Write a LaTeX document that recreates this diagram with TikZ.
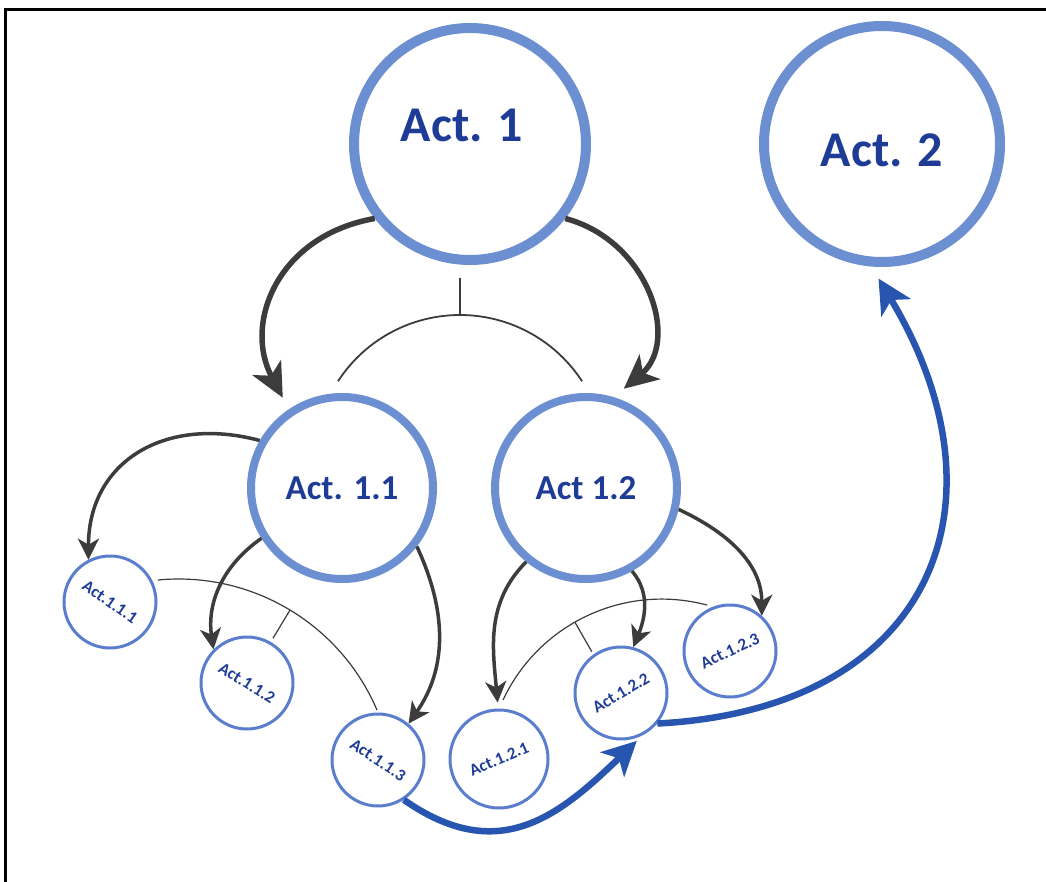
\documentclass[tikz,border=0pt]{standalone}
\usepackage{fontspec}
\setmainfont{Carlito}
\usetikzlibrary{arrows.meta}
\definecolor{actring}{HTML}{6B8FD0}
\definecolor{subring}{HTML}{5A7DCD}
\definecolor{acttext}{HTML}{1E3C96}
\definecolor{flowgray}{HTML}{3C3C3C}
\definecolor{flowblue}{HTML}{2855AF}
\tikzset{
  act/.style={circle,draw=actring,inner sep=0pt,text=acttext,font=\bfseries},
  bigact/.style={act,line width=10pt,minimum size=232pt},
  midact/.style={act,line width=8pt,minimum size=182pt,font=\bfseries\fontsize{35}{40}\selectfont},
  smallact/.style={act,draw=subring,line width=3pt,minimum size=92pt},
  bigtxt/.style={text=acttext,font=\bfseries\fontsize{50}{56}\selectfont},
  subtxt/.style={text=acttext,font=\bfseries\fontsize{17}{19}\selectfont},
  andline/.style={draw=flowgray,line width=1.8pt},
  bigflow/.style={color=flowgray,line width=5.5pt,-{Stealth[length=34pt,width=32pt,inset=9pt]}},
  smallflow/.style={color=flowgray,line width=3.5pt,-{Stealth[length=21pt,width=21pt,inset=6pt]}},
  blueflow/.style={color=flowblue,line width=6.5pt,-{Stealth[length=34pt,width=34pt,inset=9pt]}}
}
\begin{document}
\begin{tikzpicture}[x=1pt,y=1pt]
\useasboundingbox (0,0) rectangle (1046,-882);
\draw[line width=3pt] (5,-882) -- (5,-10) -- (1046,-10);
% top level
\node (a1) [bigact,label={[bigtxt,xshift=-8pt,yshift=19pt]center:Act. 1}] at (470,-144) {};
\node (a2) [bigact,minimum size=236pt,label={[bigtxt,yshift=-6pt]center:Act. 2}] at (882,-144) {};
% second level
\node (a11) [midact] at (342,-488) {Act. 1.1};
\node (a12) [midact] at (586,-488) {Act 1.2};
% third level
\node (a111) [smallact,label={[subtxt,rotate=-35]center:Act.1.1.1}] at (110,-602) {};
\node (a112) [smallact,label={[subtxt,rotate=-32]center:Act.1.1.2}] at (247,-683) {};
\node (a113) [smallact,label={[subtxt,rotate=-34]center:Act.1.1.3}] at (378,-760) {};
\node (a121) [smallact,minimum size=98pt,label={[subtxt,rotate=23]center:Act.1.2.1}] at (499,-759) {};
\node (a122) [smallact,label={[subtxt,rotate=31]center:Act.1.2.2}] at (621,-693) {};
\node (a123) [smallact,label={[subtxt,rotate=25]center:Act.1.2.3}] at (730,-651) {};
%
\coordinate (and1) at (460,-460.5);
\coordinate (and2) at (178.6,-794.7);
\coordinate (and3) at (661.7,-774.3);
\draw[andline] (and1) ++(147:145.5) arc[start angle=147,end angle=33,radius=145.5];
\draw[andline,line width=2.6pt] (and1) ++(90:145.5) -- ++(90:37);
\draw[andline,line width=1.2pt] (and2) ++(95.5:215.7) arc[start angle=95.5,end angle=23.1,radius=215.7];
\draw[andline,line width=1.2pt] (and2) ++(58.9:215.7) -- ++(238.9:33);
\draw[andline,line width=1.2pt] (and3) ++(154.9:175.2) arc[start angle=154.9,end angle=75,radius=175.2];
\draw[andline,line width=1.2pt] (and3) ++(119.7:175.2) -- ++(299.7:34);
%
\path[bigflow,shorten >=13pt] (a1.218) edge[out=190,in=118,looseness=1.2] (a11.124)
  (a1.322) edge[out=-15,in=40,looseness=1.2] (a12.73);
\path[smallflow] (a11.150) edge[out=165,in=90,looseness=1.2] (a111.117)
  (a11.212) edge[out=215,in=98] (a112.135)
  (a11.322) edge[out=-65,in=55] (a113.50)
  (a12.231) edge[out=225,in=95,shorten >=6pt] (a121.91)
  (a12.299) edge[out=-50,in=68] (a122.75)
  (a12.347) edge[out=-25,in=90] (a123.48);
\path[blueflow] (a113.303) edge[out=-35,in=224,looseness=1.2,shorten >=8pt] (a122.297)
  (a122.320) edge[out=3,in=-59,looseness=1.4,shorten >=14pt] (a2.265);
\end{tikzpicture}
\end{document}
